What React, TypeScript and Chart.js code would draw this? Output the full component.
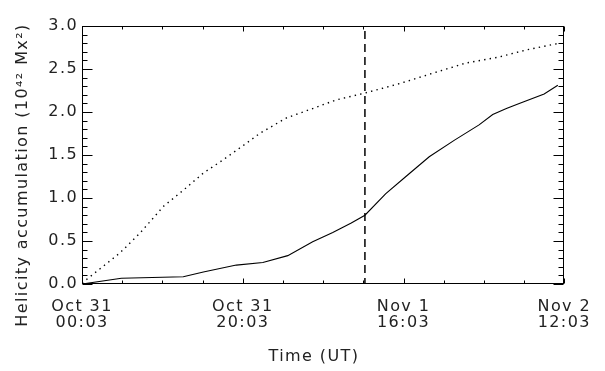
import React, { useEffect, useRef } from "react";
import { Chart, registerables } from "chart.js";

Chart.register(...registerables);

// Hours since Oct 31 00:03 UT
const solidHours = [0, 4.9, 12.6, 15.1, 19.2, 22.5, 25.6, 28.7, 31.2, 33.5, 35.2, 37.8, 40.3, 43.2, 46.3, 49.4, 51.1, 52.8, 54.4, 57.5, 59.2];
const solidValues = [0, 0.066, 0.085, 0.14, 0.22, 0.25, 0.33, 0.49, 0.6, 0.71, 0.8, 1.05, 1.25, 1.48, 1.67, 1.85, 1.97, 2.04, 2.1, 2.21, 2.31];

const dottedHours = [0, 4.7, 7.2, 10.1, 12.6, 15.1, 17.5, 20.5, 22.1, 25.4, 28.7, 31.6, 35.2, 39.5, 43.6, 47.8, 51.9, 55.2, 59.4];
const dottedValues = [0.01, 0.36, 0.59, 0.9, 1.09, 1.29, 1.44, 1.64, 1.75, 1.93, 2.04, 2.14, 2.22, 2.33, 2.45, 2.57, 2.64, 2.72, 2.8];

const eventHour = 35.2;
const yRange = [0, 3];

const xTickHours = [0, 20, 40, 60];
const xTickLines = [
  ["Oct 31", "00:03"],
  ["Oct 31", "20:03"],
  ["Nov 1", "16:03"],
  ["Nov 2", "12:03"],
];
const yTickValues = [0, 0.5, 1, 1.5, 2, 2.5, 3];

const yTitle = "Helicity accumulation (10\u2074\u00b2 Mx\u00b2)";
const xTitle = "Time (UT)";

const FONT_FAMILY = "'DejaVu Sans', sans-serif";
const TEXT_COLOR = "#222";
const LETTER_SPACING = "1.4px";

const spacingPlugin = {
  id: "spacing",
  beforeUpdate(chart: any) {
    chart.ctx.letterSpacing = LETTER_SPACING;
  },
  beforeLayout(chart: any) {
    chart.ctx.letterSpacing = LETTER_SPACING;
  },
  beforeDraw(chart: any) {
    chart.ctx.letterSpacing = LETTER_SPACING;
  },
};

const framePlugin = {
  id: "frame",
  afterDraw(chart: any) {
    const { ctx, chartArea, scales } = chart;
    const x = scales.x;
    const y = scales.y;
    const L = Math.round(chartArea.left) + 0.5;
    const R = Math.round(chartArea.right) - 0.5;
    const T = Math.round(chartArea.top) + 0.5;
    const B = Math.round(chartArea.bottom) - 0.5;
    ctx.save();
    ctx.strokeStyle = "#000";
    ctx.lineWidth = 1;
    ctx.strokeRect(L, T, R - L, B - T);
    ctx.beginPath();
    // y ticks (major every 0.5, minor every 0.1), both sides, inward
    for (let i = 0; i <= 30; i++) {
      const py = Math.round(y.getPixelForValue(i / 10)) + 0.5;
      const len = i % 5 === 0 ? 10 : 5;
      ctx.moveTo(L, py);
      ctx.lineTo(L + len, py);
      ctx.moveTo(R, py);
      ctx.lineTo(R - len, py);
    }
    // x ticks (major every 20 h, minor every 5 h), top and bottom, inward
    for (let h = 0; h <= 60; h += 5) {
      const px = Math.round(x.getPixelForValue(h)) + 0.5;
      const len = h % 20 === 0 ? 5 : 3;
      ctx.moveTo(px, B);
      ctx.lineTo(px, B - len);
      ctx.moveTo(px, T);
      ctx.lineTo(px, T + len);
    }
    ctx.stroke();

    // axis titles
    ctx.letterSpacing = LETTER_SPACING;
    ctx.fillStyle = TEXT_COLOR;
    ctx.font = `16px ${FONT_FAMILY}`;
    ctx.textAlign = "center";
    ctx.textBaseline = "middle";
    ctx.fillText(xTitle, 314, 357);
    ctx.translate(23, 175);
    ctx.rotate(-Math.PI / 2);
    ctx.fillText(yTitle, 0, 0);
    ctx.restore();
  },
};

export default function App() {
  const canvasRef = useRef<HTMLCanvasElement | null>(null);

  useEffect(() => {
    if (!canvasRef.current) return;
    const chart = new Chart(canvasRef.current, {
      type: "scatter",
      data: {
        datasets: [
          {
            label: "solid",
            data: solidHours.map((h, i) => ({ x: h, y: solidValues[i] })),
            showLine: true,
            borderColor: "#000",
            borderWidth: 1.1,
            pointRadius: 0,
          },
          {
            label: "dotted",
            data: dottedHours.map((h, i) => ({ x: h, y: dottedValues[i] })),
            showLine: true,
            borderColor: "#000",
            borderWidth: 1.4,
            borderDash: [1.4, 4.2],
            pointRadius: 0,
          },
          {
            label: "event",
            data: [
              { x: eventHour, y: yRange[1] },
              { x: eventHour, y: yRange[0] },
            ],
            showLine: true,
            borderColor: "#000",
            borderWidth: 1.5,
            borderDash: [8, 5],
            borderDashOffset: -5,
            pointRadius: 0,
          },
        ],
      },
      options: {
        animation: false,
        responsive: true,
        maintainAspectRatio: false,
        layout: { padding: { top: 26, right: 40, left: 0, bottom: 0 } },
        plugins: {
          legend: { display: false },
          tooltip: { enabled: false },
        },
        scales: {
          x: {
            type: "linear",
            min: 0,
            max: 60,
            afterBuildTicks: (scale: any) => {
              scale.ticks = xTickHours.map((v) => ({ value: v }));
            },
            afterFit: (scale: any) => {
              scale.height = 87;
            },
            ticks: {
              autoSkip: false,
              maxRotation: 0,
              padding: 14,
              color: TEXT_COLOR,
              font: { family: FONT_FAMILY, size: 16, lineHeight: 1.05 },
              callback: (v: any) => {
                const idx = xTickHours.indexOf(Number(v));
                return idx >= 0 ? xTickLines[idx] : "";
              },
            },
            grid: { display: false, drawTicks: false },
            border: { display: false },
          },
          y: {
            type: "linear",
            min: yRange[0],
            max: yRange[1],
            afterBuildTicks: (scale: any) => {
              scale.ticks = yTickValues.map((v) => ({ value: v }));
            },
            afterFit: (scale: any) => {
              scale.width = 82;
            },
            ticks: {
              padding: 4,
              color: TEXT_COLOR,
              font: { family: FONT_FAMILY, size: 16 },
              callback: (v: any) => Number(v).toFixed(1),
            },
            grid: { display: false, drawTicks: false },
            border: { display: false },
          },
        },
      },
      plugins: [spacingPlugin, framePlugin],
    });
    return () => chart.destroy();
  }, []);

  return (
    <div style={{ position: "fixed", left: 0, top: 0, width: 605, height: 371, background: "#fff" }}>
      <canvas ref={canvasRef} />
    </div>
  );
}
